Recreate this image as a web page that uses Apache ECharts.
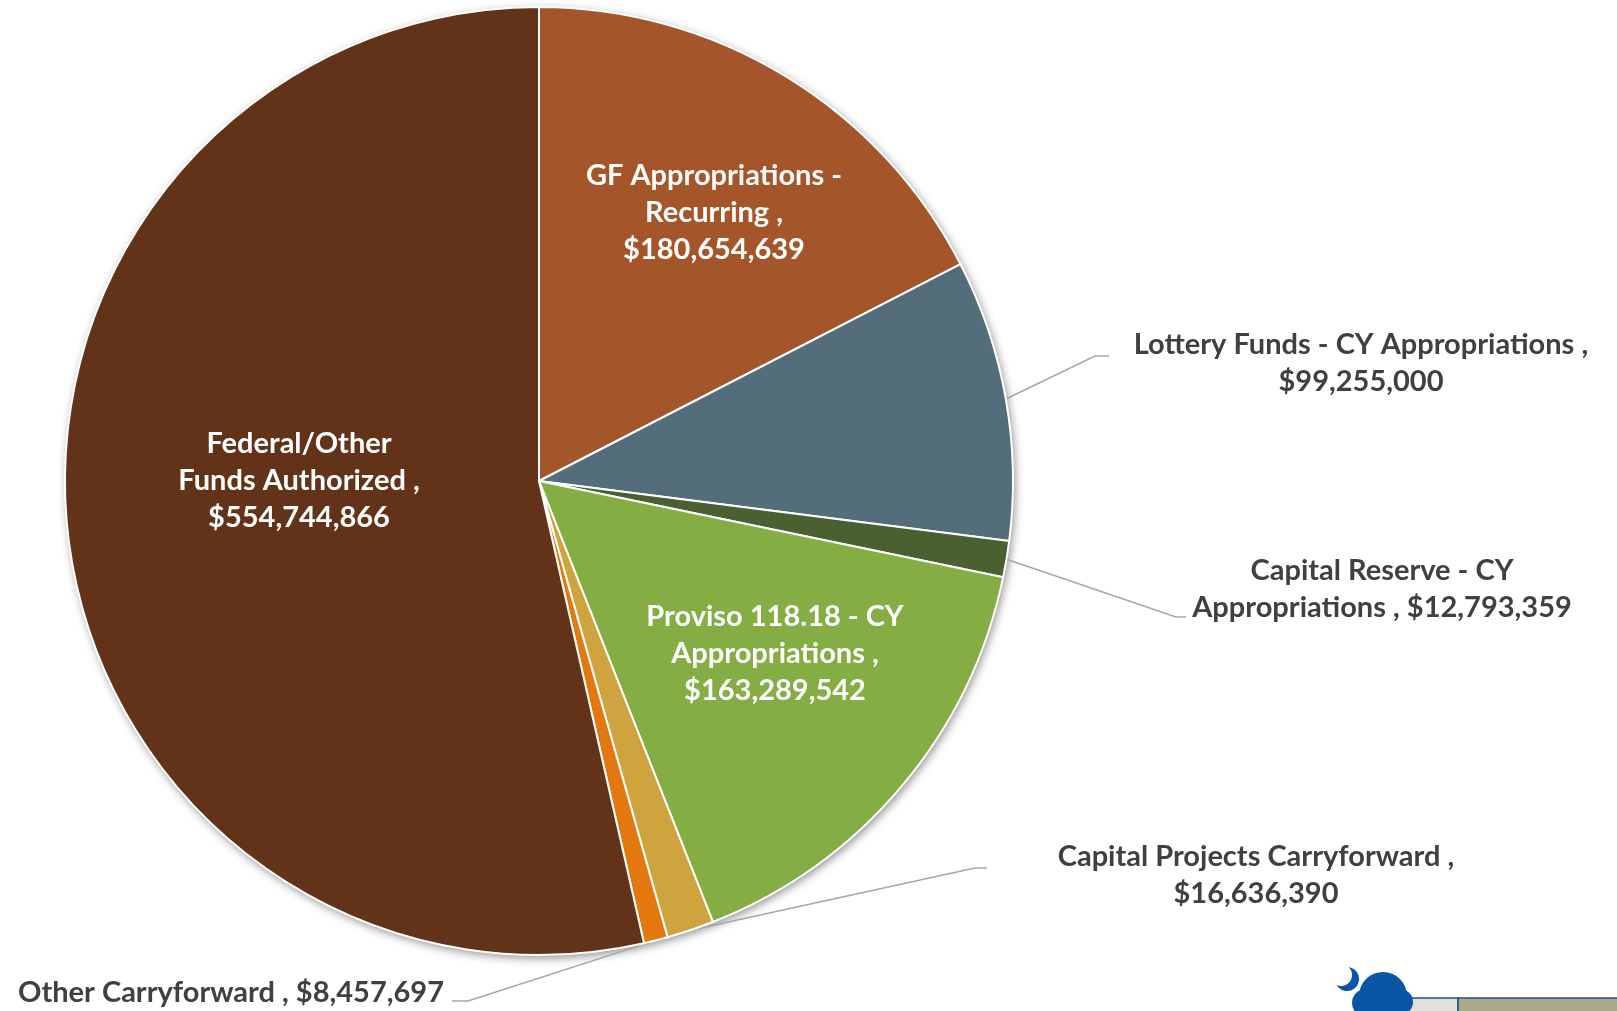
<!DOCTYPE html>
<html>
<head>
<meta charset="utf-8">
<script src="https://cdn.jsdelivr.net/npm/echarts@6/dist/echarts.min.js"></script>
<style>
html, body { margin: 0; padding: 0; background: #fff; }
#chart { width: 1617px; height: 1011px; }
</style>
</head>
<body>
<div id="chart"></div>
<script>
// slices, clockwise from 12 o'clock
var categories = [
	'GF Appropriations - Recurring',
	'Lottery Funds - CY Appropriations',
	'Capital Reserve - CY Appropriations',
	'Proviso 118.18 - CY Appropriations',
	'Capital Projects Carryforward',
	'Other Carryforward',
	'Federal/Other Funds Authorized'
];
var values = [180654639, 99255000, 12793359, 163289542, 16636390, 8457697, 554744866];
// label text as wrapped in the picture, {v} = value
var labelTexts = [
	'GF Appropriations -\nRecurring ,\n{v}',
	'Lottery Funds - CY Appropriations ,\n{v}',
	'Capital Reserve - CY\nAppropriations , {v}',
	'Proviso 118.18 - CY\nAppropriations ,\n{v}',
	'Capital Projects Carryforward ,\n{v}',
	'Other Carryforward , {v}',
	'Federal/Other\nFunds Authorized ,\n{v}'
];
var colors = ['#a5552a', '#546d7b', '#4a6030', '#84ae43', '#cfa33e', '#e2780e', '#623318'];
var inside = [true, false, false, true, false, false, true];

var CX = 539, CY = 481, R = 474;

// where each label sits (centre of text block) and leader line bend, offset from pie centre
var spots = [
	{ x: 175, y: -268 },
	{ x: 822, y: -118, bend: [556, -125], end: [570, -125] },
	{ x: 843, y: 108, bend: [637, 136], end: [647, 136] },
	{ x: 236, y: 173 },
	{ x: 717, y: 394, bend: [436, 387], end: [448, 387] },
	{ x: -308, y: 512, bend: [-71, 520], end: [-87, 520] },
	{ x: -240, y: 0 }
];

function money(v) {
	return '$' + v.toString().replace(/\B(?=(\d{3})+(?!\d))/g, ',');
}

var total = values.reduce(function(a, b) { return a + b; }, 0);
// mid angle of each slice (radians, clockwise from top)
var mids = [];
var acc = 0;
for (var i = 0; i < values.length; i++) {
	mids.push((acc + values[i] / 2) / total * Math.PI * 2);
	acc += values[i];
}

var data = [];
for (var i = 0; i < values.length; i++) {
	data.push({
		name: categories[i],
		value: values[i],
		itemStyle: { color: colors[i] },
		label: {
			position: inside[i] ? 'inside' : 'outside',
			color: inside[i] ? '#ffffff' : '#404040'
		},
		labelLine: { show: !inside[i] }
	});
}

var option = {
	animation: false,
	graphic: [
		// corner logo fragment
		{ type: 'rect', shape: { x: 1408, y: 998, width: 50, height: 14 }, style: { fill: '#e2e0d8', stroke: '#1f4f8f', lineWidth: 1.5 } },
		{ type: 'rect', shape: { x: 1458, y: 998, width: 160, height: 14 }, style: { fill: '#ada88a', stroke: '#1f4f8f', lineWidth: 1.5 } },
		{ type: 'circle', shape: { cx: 1383, cy: 996, r: 24 }, style: { fill: '#0a56a5' } },
		{ type: 'circle', shape: { cx: 1366, cy: 1003, r: 14 }, style: { fill: '#0a56a5' } },
		{ type: 'circle', shape: { cx: 1400, cy: 1002, r: 13 }, style: { fill: '#0a56a5' } },
		{ type: 'circle', shape: { cx: 1347, cy: 979, r: 12 }, style: { fill: '#0a56a5' } },
		{ type: 'circle', shape: { cx: 1341, cy: 975, r: 11 }, style: { fill: '#ffffff' } }
	],
	series: [
		{
			// shadow under the whole pie
			type: 'pie',
			silent: true,
			center: [CX, CY],
			radius: R,
			z: 1,
			label: { show: false },
			data: [{ value: 1, itemStyle: { color: '#ffffff', shadowBlur: 10, shadowOffsetX: 2, shadowOffsetY: 3, shadowColor: 'rgba(0,0,0,0.45)' } }]
		},
		{
			type: 'pie',
			center: [CX, CY],
			radius: R,
			startAngle: 90,
			clockwise: true,
			z: 2,
			itemStyle: { borderColor: '#ffffff', borderWidth: 2 },
			label: {
				fontFamily: 'Lato',
				fontWeight: 'bold',
				fontSize: 29,
				lineHeight: 37,
				align: 'center',
				formatter: function(p) {
					return labelTexts[p.dataIndex].replace('{v}', money(p.value));
				}
			},
			labelLine: {
				lineStyle: { color: '#a6a6a6', width: 1.5 }
			},
			labelLayout: function(p) {
				var s = spots[p.dataIndex];
				var out = { x: CX + s.x, y: CY + s.y, align: 'center', verticalAlign: 'middle' };
				if (s.bend) {
					var a = mids[p.dataIndex];
					out.labelLinePoints = [
						[CX + R * Math.sin(a), CY - R * Math.cos(a)],
						[CX + s.bend[0], CY + s.bend[1]],
						[CX + s.end[0], CY + s.end[1]]
					];
				}
				return out;
			},
			data: data
		}
	]
};

var myChart = echarts.init(document.getElementById('chart'));
myChart.setOption(option);
</script>
</body>
</html>
